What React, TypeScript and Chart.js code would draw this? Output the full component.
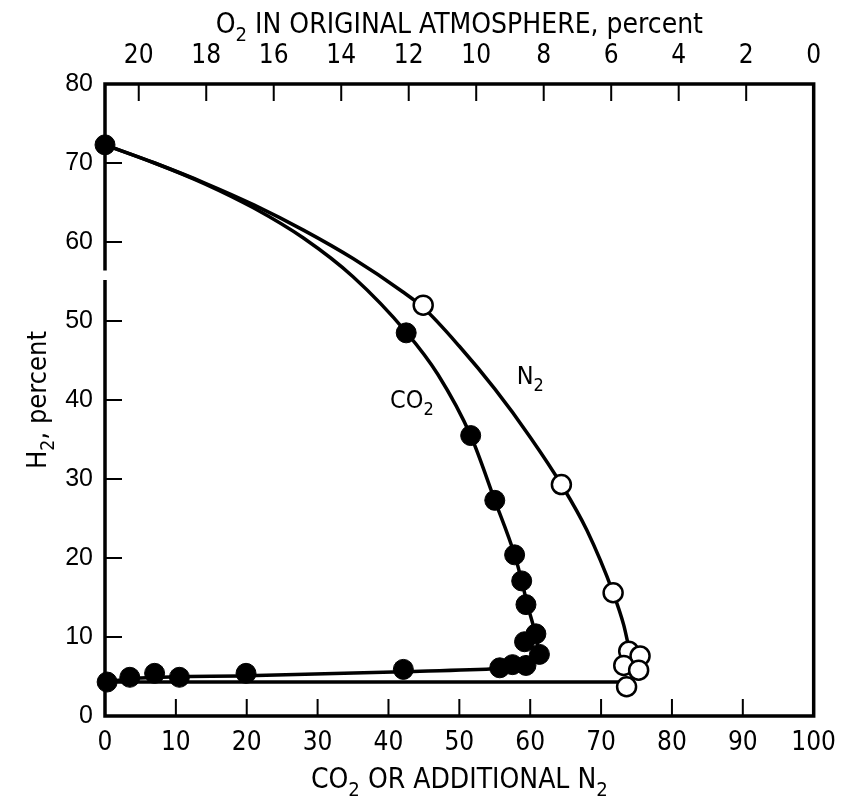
import React, { useEffect, useRef } from "react";
import { Chart, registerables } from "chart.js";

Chart.register(...registerables);

// ---- data ----
// CO2 (filled circles)
const CO2_X = [0, 0.3, 3.5, 7.0, 10.5, 19.9, 42.1, 55.7, 57.5, 59.4, 61.3, 59.2, 60.8, 59.4, 58.8, 57.8, 55.0, 51.6, 42.5];
const CO2_Y = [72.3, 4.3, 4.9, 5.4, 4.9, 5.4, 5.9, 6.1, 6.5, 6.4, 7.8, 9.4, 10.4, 14.1, 17.1, 20.4, 27.3, 35.5, 48.5];

// N2 (open circles)
const N2_X = [44.9, 64.4, 71.7, 73.9, 75.5, 73.2, 75.3, 73.6];
const N2_Y = [52.0, 29.3, 15.6, 8.2, 7.6, 6.4, 5.8, 3.7];

// fitted CO2 curve: upper branch and lower branch
const CO2_UPPER_X = [0, 7, 14, 21, 28, 35, 42.5, 47, 51.6, 55.0, 57.8, 58.8, 59.6, 60.7, 61.3];
const CO2_UPPER_Y = [72.3, 70.0, 67.4, 64.3, 60.5, 55.6, 48.6, 43.2, 35.5, 27.3, 20.4, 17.1, 14.1, 10.5, 7.8];
const CO2_LOWER_X = [0, 5, 20, 42, 55.7, 59.5, 61.3];
const CO2_LOWER_Y = [4.3, 4.8, 5.1, 5.6, 6.0, 6.4, 7.8];

// fitted N2 curve (upper branch) and base line
const N2_CURVE_X = [0, 7, 14, 21, 28, 35, 42, 44.9, 50, 55, 60, 64.4, 68, 71.7, 73.2, 74.0];
const N2_CURVE_Y = [72.3, 70.0, 67.5, 64.7, 61.5, 57.9, 53.7, 51.7, 46.8, 41.4, 35.3, 29.3, 23.5, 15.6, 11.5, 8.3];
const N2_BASE_X = [0, 73.4];
const N2_BASE_Y = [4.3, 4.3];

// axes
const X_TICKS = [0, 10, 20, 30, 40, 50, 60, 70, 80, 90, 100];
const Y_TICKS = [0, 10, 20, 30, 40, 50, 60, 70, 80];
const O2_TICKS = [20, 18, 16, 14, 12, 10, 8, 6, 4, 2, 0];
const Y_BREAK = [55.2, 56.4];

const TOP_TITLE: [string, boolean][] = [["O", false], ["2", true], [" IN ORIGINAL ATMOSPHERE, percent", false]];
const BOTTOM_TITLE: [string, boolean][] = [["CO", false], ["2", true], [" OR ADDITIONAL N", false], ["2", true]];
const Y_TITLE: [string, boolean][] = [["H", false], ["2", true], [", percent", false]];
const CO2_LABEL: [string, boolean][] = [["CO", false], ["2", true]];
const N2_LABEL: [string, boolean][] = [["N", false], ["2", true]];
const CO2_LABEL_POS = [43.3, 39.0];
const N2_LABEL_POS = [60.0, 42.0];

const NARROW = '"Liberation Sans Narrow", "DejaVu Sans Condensed", "Arial Narrow", sans-serif';
const REGULAR = '"Liberation Sans", Arial, sans-serif';

function pts(xs: number[], ys: number[]) {
  return xs.map((x, i) => ({ x, y: ys[i] }));
}

function drawRich(ctx: CanvasRenderingContext2D, segs: [string, boolean][], x: number, y: number, size: number, family: string) {
  const subSize = size * 0.72;
  let total = 0;
  const widths = segs.map(([t, sub]) => {
    ctx.font = `${sub ? subSize : size}px ${family}`;
    const w = ctx.measureText(t).width;
    total += w;
    return w;
  });
  let cx = x - total / 2;
  ctx.textAlign = "left";
  ctx.textBaseline = "alphabetic";
  segs.forEach(([t, sub], i) => {
    ctx.font = `${sub ? subSize : size}px ${family}`;
    ctx.fillText(t, cx, sub ? y + size * 0.28 : y);
    cx += widths[i];
  });
}

const framePlugin = {
  id: "frame",
  beforeDatasetsDraw(chart: any) {
    const { ctx, chartArea: a, scales } = chart;
    const ys = scales.y, xs = scales.x, x2 = scales.x2;
    ctx.save();
    ctx.strokeStyle = "#000";
    ctx.lineCap = "butt";
    ctx.lineWidth = 3.5;
    ctx.beginPath();
    ctx.moveTo(a.left - 1.75, a.top);
    ctx.lineTo(a.right, a.top);
    ctx.lineTo(a.right, a.bottom);
    ctx.lineTo(a.left - 1.75, a.bottom);
    // left with break
    ctx.moveTo(a.left, a.top);
    ctx.lineTo(a.left, ys.getPixelForValue(Y_BREAK[1]));
    ctx.moveTo(a.left, ys.getPixelForValue(Y_BREAK[0]));
    ctx.lineTo(a.left, a.bottom);
    ctx.stroke();
    // inward ticks
    const TL = 17;
    ctx.lineWidth = 2;
    ctx.beginPath();
    Y_TICKS.slice(1, -1).forEach((v) => {
      const p = ys.getPixelForValue(v);
      ctx.moveTo(a.left, p);
      ctx.lineTo(a.left + TL, p);
    });
    X_TICKS.slice(1, -1).forEach((v) => {
      const p = xs.getPixelForValue(v);
      ctx.moveTo(p, a.bottom);
      ctx.lineTo(p, a.bottom - TL);
    });
    O2_TICKS.slice(0, -1).forEach((v) => {
      const p = x2.getPixelForValue(v);
      ctx.moveTo(p, a.top);
      ctx.lineTo(p, a.top + TL);
    });
    ctx.stroke();
    ctx.restore();
  },
  afterDraw(chart: any) {
    const { ctx, chartArea: a, scales } = chart;
    ctx.save();
    ctx.fillStyle = "#000";
    const cx = (a.left + a.right) / 2;
    drawRich(ctx, TOP_TITLE, cx, 33, 28, NARROW);
    drawRich(ctx, BOTTOM_TITLE, cx, 788, 28, NARROW);
    drawRich(ctx, CO2_LABEL, scales.x.getPixelForValue(CO2_LABEL_POS[0]), scales.y.getPixelForValue(CO2_LABEL_POS[1]), 25, NARROW);
    drawRich(ctx, N2_LABEL, scales.x.getPixelForValue(N2_LABEL_POS[0]), scales.y.getPixelForValue(N2_LABEL_POS[1]), 25, NARROW);
    ctx.translate(46, (a.top + a.bottom) / 2);
    ctx.rotate(-Math.PI / 2);
    drawRich(ctx, Y_TITLE, 0, 0, 27, NARROW);
    ctx.restore();
  },
};

function curve(label: string, xs: number[], ys: number[], mode: "monotone" | "default") {
  return {
    label,
    data: pts(xs, ys),
    showLine: true,
    pointRadius: 0,
    borderColor: "#000",
    borderWidth: 3.5,
    cubicInterpolationMode: mode,
    tension: 0,
    clip: false,
    order: 1,
  };
}

export default function App() {
  const ref = useRef<HTMLCanvasElement | null>(null);
  useEffect(() => {
    if (!ref.current) return;
    const tickFont = { family: NARROW, size: 26 };
    const chart = new Chart(ref.current, {
      type: "scatter",
      data: {
        datasets: [
          {
            label: "CO2",
            data: pts(CO2_X, CO2_Y),
            pointRadius: 10,
            pointBackgroundColor: "#000",
            pointBorderColor: "#000",
            pointBorderWidth: 1,
            showLine: false,
            clip: false,
            order: 0,
          },
          {
            label: "N2",
            data: pts(N2_X, N2_Y),
            pointRadius: 9.5,
            pointBackgroundColor: "#fff",
            pointBorderColor: "#000",
            pointBorderWidth: 2.5,
            showLine: false,
            clip: false,
            order: 0,
          },
          curve("CO2 upper", CO2_UPPER_X, CO2_UPPER_Y, "monotone"),
          curve("CO2 lower", CO2_LOWER_X, CO2_LOWER_Y, "monotone"),
          curve("N2 curve", N2_CURVE_X, N2_CURVE_Y, "monotone"),
          curve("N2 base", N2_BASE_X, N2_BASE_Y, "default"),
        ] as any,
      },
      options: {
        animation: false,
        responsive: true,
        maintainAspectRatio: false,
        layout: { padding: { left: 0, right: 30, top: 0, bottom: 0 } },
        plugins: { legend: { display: false }, tooltip: { enabled: false } },
        events: [],
        scales: {
          x: {
            type: "linear",
            position: "bottom",
            min: 0,
            max: 100,
            afterBuildTicks: (s: any) => { s.ticks = X_TICKS.map((v) => ({ value: v })); },
            ticks: { font: tickFont, color: "#000", padding: 12, maxRotation: 0, autoSkip: false },
            grid: { display: false, drawTicks: false },
            border: { display: false },
            afterFit: (s: any) => { s.height = 91; },
          },
          x2: {
            type: "linear",
            position: "top",
            min: 0,
            max: 21,
            reverse: true,
            afterBuildTicks: (s: any) => { s.ticks = O2_TICKS.map((v) => ({ value: v })); },
            ticks: { font: tickFont, color: "#000", padding: 12, maxRotation: 0, autoSkip: false },
            grid: { display: false, drawTicks: false },
            border: { display: false },
            afterFit: (s: any) => { s.height = 84; },
          },
          y: {
            type: "linear",
            position: "left",
            min: 0,
            max: 80,
            afterBuildTicks: (s: any) => { s.ticks = Y_TICKS.map((v) => ({ value: v })); },
            ticks: { font: { family: REGULAR, size: 25 }, color: "#000", padding: 12, autoSkip: false },
            grid: { display: false, drawTicks: false },
            border: { display: false },
            afterFit: (s: any) => { s.width = 105; },
          },
        },
      },
      plugins: [framePlugin],
    });
    return () => chart.destroy();
  }, []);
  return (
    <div style={{ position: "absolute", left: 0, top: 0, width: 848, height: 807, background: "#fff" }}>
      <canvas ref={ref} />
    </div>
  );
}
